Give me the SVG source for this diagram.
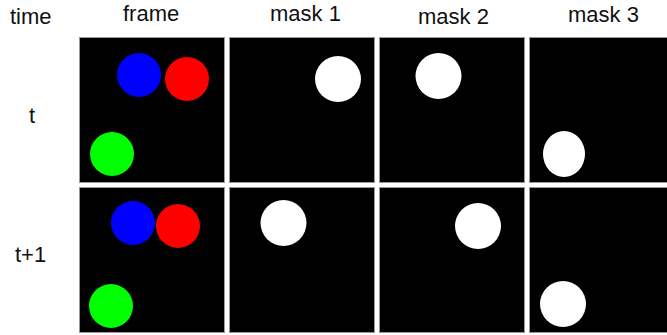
<svg xmlns="http://www.w3.org/2000/svg" width="667" height="335" viewBox="0 0 667 335">
  <style>
    .label { font-family: "Liberation Sans", Arial, Helvetica, sans-serif; font-size: 22px; fill: #111; }
    .panel { fill: #000; stroke: #9a9a9a; stroke-width: 1; }
    .mask { fill: #fff; }
  </style>
  <rect width="667" height="335" fill="#fff"/>

  <!-- column and row headings -->
  <g id="headings">
    <text class="label" x="10" y="23.5">time</text>
    <text class="label" x="123" y="21">frame</text>
    <text class="label" x="270" y="21">mask 1</text>
    <text class="label" x="418" y="24">mask 2</text>
    <text class="label" x="568" y="22">mask 3</text>
    <text class="label" x="29" y="123">t</text>
    <text class="label" x="15" y="262">t+1</text>
  </g>

  <!-- row t -->
  <g id="frame-t">
    <rect class="panel" x="79.5" y="37.5" width="145" height="145"/>
    <circle cx="139" cy="75" r="22" fill="#0000ff"/>
    <circle cx="187" cy="79" r="22" fill="#ff0000"/>
    <circle cx="112" cy="154" r="22" fill="#00ff00"/>
  </g>
  <g id="mask1-t">
    <rect class="panel" x="229.5" y="37.5" width="145" height="145"/>
    <circle class="mask" cx="338" cy="79" r="23"/>
  </g>
  <g id="mask2-t">
    <rect class="panel" x="379.5" y="37.5" width="145" height="145"/>
    <circle class="mask" cx="438.5" cy="76" r="23"/>
  </g>
  <g id="mask3-t">
    <rect class="panel" x="529.5" y="37.5" width="145" height="145"/>
    <ellipse class="mask" cx="564" cy="154" rx="21" ry="23"/>
  </g>

  <!-- row t+1 -->
  <g id="frame-t1">
    <rect class="panel" x="79.5" y="187.5" width="145" height="145"/>
    <circle cx="133" cy="223" r="22" fill="#0000ff"/>
    <circle cx="178" cy="226" r="22" fill="#ff0000"/>
    <circle cx="111" cy="306" r="22" fill="#00ff00"/>
  </g>
  <g id="mask1-t1">
    <rect class="panel" x="229.5" y="187.5" width="145" height="145"/>
    <circle class="mask" cx="283.5" cy="223" r="23"/>
  </g>
  <g id="mask2-t1">
    <rect class="panel" x="379.5" y="187.5" width="145" height="145"/>
    <circle class="mask" cx="478" cy="226" r="23"/>
  </g>
  <g id="mask3-t1">
    <rect class="panel" x="529.5" y="187.5" width="145" height="145"/>
    <circle class="mask" cx="563" cy="304" r="23"/>
  </g>

  <g id="connectors"/>
</svg>
